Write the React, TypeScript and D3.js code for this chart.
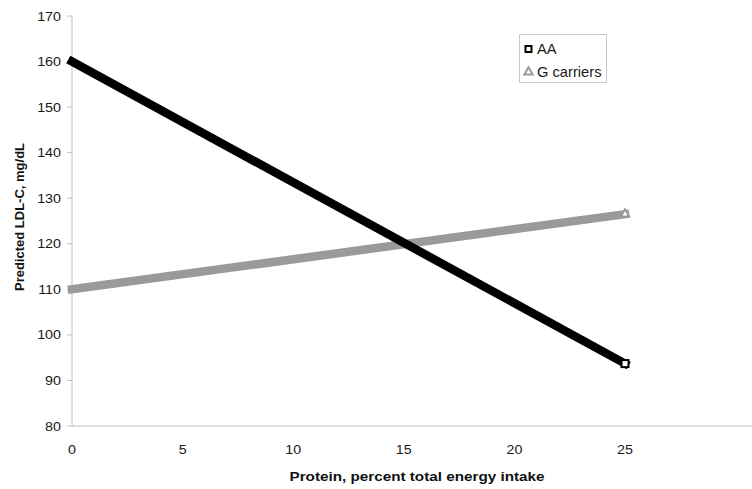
import React from 'react';
import * as d3 from 'd3';

const WIDTH = 752;
const HEIGHT = 489;

const MARGIN = { top: 16, right: 0, bottom: 63, left: 72 };

// protein, % total energy intake
const proteinPct = [0, 25];
// predicted LDL-C, mg/dL
const aaValues = [160, 93.7];
const gCarrierValues = [110, 126.5];

const xTicks = [0, 5, 10, 15, 20, 25];
const yTicks = [80, 90, 100, 110, 120, 130, 140, 150, 160, 170];

const FONT = 'Liberation Sans, Arial, sans-serif';
const STRETCH = 1.1; // source picture is a bit wider than tall

type LabelProps = {
  x: number; y: number; anchor?: string; size?: number; stretch?: number; children: React.ReactNode;
};

const Label = ({ x, y, anchor = 'start', size = 13, stretch = STRETCH, children }: LabelProps) => (
  <text transform={`translate(${x}, ${y}) scale(${stretch}, 1)`} dy="0.35em" textAnchor={anchor}
    fontSize={size} fill="#1a1a1a">
    {children}
  </text>
);

export default function App() {
  const x = d3.scaleLinear().domain([0, 25]).range([MARGIN.left, 625]);
  const y = d3.scaleLinear().domain([80, 170]).range([HEIGHT - MARGIN.bottom, MARGIN.top]);

  const line = d3.line<number>()
    .x((_, i) => x(proteinPct[i]))
    .y(d => y(d));

  const last = proteinPct.length - 1;
  const axisColor = '#c0c0c0';
  const tri = d3.symbol(d3.symbolTriangle, 30)() ?? '';

  return (
    <svg width={WIDTH} height={HEIGHT} style={{ position: 'absolute', left: 0, top: 0 }} fontFamily={FONT}>
      <rect width={WIDTH} height={HEIGHT} fill="#fff" />

      {/* y axis */}
      <line x1={x(0)} x2={x(0)} y1={y(170)} y2={y(80)} stroke={axisColor} />
      {yTicks.map(t => (
        <g key={t}>
          <line x1={x(0) - 5} x2={x(0)} y1={y(t)} y2={y(t)} stroke={axisColor} />
          <Label x={61} y={y(t)} anchor="end">{t}</Label>
        </g>
      ))}

      {/* x axis */}
      <line x1={x(0)} x2={WIDTH} y1={y(80)} y2={y(80)} stroke={axisColor} />
      {xTicks.map(t => (
        <Label key={t} x={x(t)} y={y(80) + 23} anchor="middle">{t}</Label>
      ))}

      <text x={417} y={476} dy="0.35em" textAnchor="middle" fontSize={13.5} fontWeight="bold" fill="#111"
        textLength={255} lengthAdjust="spacingAndGlyphs">
        Protein, percent total energy intake
      </text>
      <text transform={`translate(19.5, 217) rotate(-90)`} dy="0.35em" textAnchor="middle"
        fontSize={13} fontWeight="bold" fill="#111">
        Predicted LDL-C, mg/dL
      </text>

      {/* G carriers */}
      <path d={line(gCarrierValues) ?? ''} stroke="#9a9a9a" strokeWidth={8.5} strokeLinecap="square" fill="none" />
      <path d={tri} transform={`translate(${x(proteinPct[last])}, ${y(gCarrierValues[last])})`}
        fill="#fff" stroke="#9a9a9a" strokeWidth={2} />

      {/* AA */}
      <path d={line(aaValues) ?? ''} stroke="#000" strokeWidth={8.5} strokeLinecap="square" fill="none" />
      <rect x={x(proteinPct[last]) - 3.5} y={y(aaValues[last]) - 3.5} width={7} height={7}
        fill="#fff" stroke="#000" strokeWidth={2} />

      {/* legend */}
      <rect x={519.5} y={34.5} width={87} height={48} fill="#fff" stroke="#c8c8c8" />
      <rect x={525.5} y={46} width={6} height={6} fill="#fff" stroke="#000" strokeWidth={2} />
      <Label x={537} y={49} size={14} stretch={1.05}>AA</Label>
      <path d={tri} transform="translate(528.5, 72)" fill="#fff" stroke="#9a9a9a" strokeWidth={2} />
      <Label x={537} y={72} size={14} stretch={1.05}>G carriers</Label>
    </svg>
  );
}
